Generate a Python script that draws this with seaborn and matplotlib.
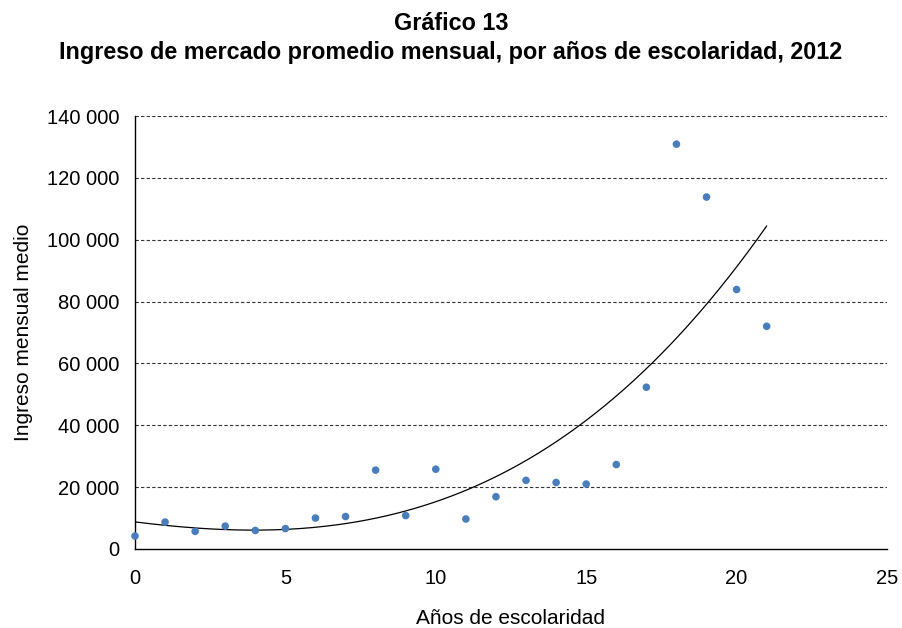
import numpy as np
import pandas as pd
import matplotlib
matplotlib.use("Agg")
import matplotlib.pyplot as plt
import seaborn as sns
from matplotlib.ticker import FuncFormatter

# Average monthly market income by years of schooling, 2012
anios = [0, 1, 2, 3, 4, 5, 6, 7, 8, 9, 10, 11, 12, 13, 14, 15, 16, 17, 18, 19, 20, 21]
ingreso = [4200, 8700, 5700, 7400, 6000, 6600, 10000, 10500, 25500, 10800, 25800,
           9700, 16900, 22200, 21500, 21000, 27300, 52300, 130900, 113800, 83900, 72000]

x_ticks = [0, 5, 10, 15, 20, 25]
y_ticks = [0, 20000, 40000, 60000, 80000, 100000, 120000, 140000]

sns.set_theme(style="white")
plt.rcParams["font.family"] = ["Liberation Sans", "DejaVu Sans"]

df = pd.DataFrame({"anios": anios, "ingreso": ingreso})

fig = plt.figure(figsize=(9.02, 6.28), dpi=100)
ax = fig.add_axes([135 / 902, 1 - 549 / 628, (887 - 135) / 902, (549 - 116) / 628])

# polynomial trend line (order 3) fitted to the data
coef = np.polyfit(df["anios"], df["ingreso"], 3)
xs = np.linspace(0, 21, 200)
trend = pd.DataFrame({"x": xs, "y": np.polyval(coef, xs)})
sns.lineplot(data=trend, x="x", y="y", ax=ax, color="black", linewidth=0.9, zorder=3)

sns.scatterplot(data=df, x="anios", y="ingreso", ax=ax, color="#4a7ebb",
                s=30, edgecolor="none", zorder=4, clip_on=False)

ax.set_xlim(0, 25)
ax.set_ylim(0, 140000)
ax.set_xticks(x_ticks)
ax.set_yticks(y_ticks)
ax.yaxis.set_major_formatter(FuncFormatter(lambda v, p: f"{int(v):,}".replace(",", " ")))

for yv in y_ticks[1:]:
    ax.axhline(yv, color="#333333", linestyle=(0, (3, 2)), linewidth=0.8, zorder=1)

for s in ["top", "right"]:
    ax.spines[s].set_visible(False)
for s in ["left", "bottom"]:
    ax.spines[s].set_color("black")
    ax.spines[s].set_linewidth(1.0)

ax.tick_params(axis="both", direction="out", length=5.5, width=1, color="black",
               labelsize=14.5, colors="black")
ax.tick_params(axis="y", pad=6)
ax.tick_params(axis="x", pad=9)

ax.set_xlabel("Años de escolaridad", fontsize=15, color="black", labelpad=15)
ax.set_ylabel("Ingreso mensual medio", fontsize=15, color="black", labelpad=10)

fig.text(0.5, 1 - 24 / 628, "Gráfico 13", ha="center", va="center",
         fontsize=16.8, fontweight="bold", color="black")
fig.text(0.5, 1 - 52 / 628, "Ingreso de mercado promedio mensual, por años de escolaridad, 2012",
         ha="center", va="center", fontsize=16.8, fontweight="bold", color="black")

fig.savefig("out.png", dpi=100)
